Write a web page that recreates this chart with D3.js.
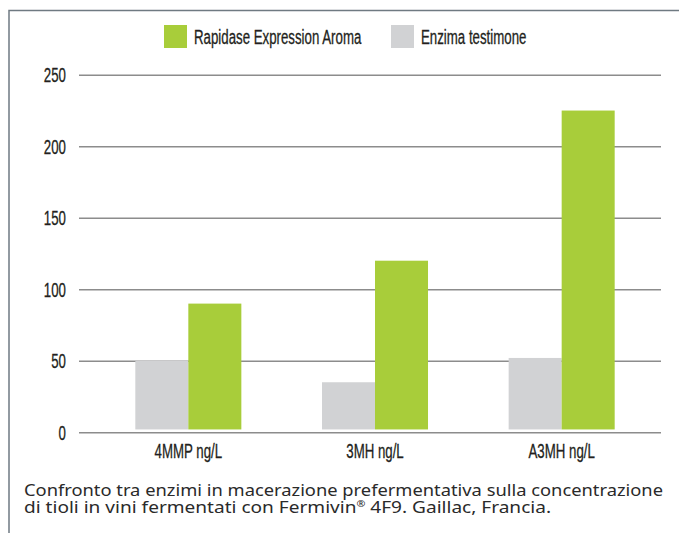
<!DOCTYPE html>
<html>
<head>
<meta charset="utf-8">
<script src="https://cdn.jsdelivr.net/npm/d3@7"></script>
<style>
  body { margin: 0; background: #fff; }
  .cond { font-family: "Liberation Sans", Arial, sans-serif; fill: #231f20; stroke: #231f20; stroke-width: 0.3; }
  .caption { font-family: "Noto Sans", "Lato", sans-serif; fill: #2a2a2a; }
</style>
</head>
<body>
<div id="chart"></div>
<script>
const categories = ["4MMP ng/L", "3MH ng/L", "A3MH ng/L"];
const seriesNames = ["Enzima testimone", "Rapidase Expression Aroma"];
const testimone = [50, 35, 52];
const rapidase = [90, 120, 225];
const yTicks = [0, 50, 100, 150, 200, 250];
const legendOrder = ["Rapidase Expression Aroma", "Enzima testimone"];
const captionLine1 = "Confronto tra enzimi in macerazione prefermentativa sulla concentrazione";
const captionLine2 = ["di tioli in vini fermentati con Fermivin", "\u00AE", " 4F9. Gaillac, Francia."];

const width = 679;
const height = 533;
const margin = { top: 74.8, right: 18, bottom: 100.7, left: 79 };

const svg = d3.select("#chart")
    .append("svg")
    .attr("width", width)
    .attr("height", height);

const color = d3.scaleOrdinal()
    .domain(seriesNames)
    .range(["#d1d2d4", "#a8cd3a"]);

// squeeze text horizontally, the original uses a condensed face
function condense(sel, k = 0.68) {
    sel.each(function () {
        const w = this.getComputedTextLength();
        d3.select(this)
            .attr("textLength", w * k)
            .attr("lengthAdjust", "spacingAndGlyphs");
    });
}

// frame
svg.append("path")
    .attr("d", `M9,${height} V10.5 H${width}`)
    .attr("fill", "none")
    .attr("stroke", "#6f7a82")
    .attr("stroke-width", 1.5);

const x0 = d3.scaleBand()
    .domain(categories)
    .range([95, 655])
    .paddingInner(0.432)
    .paddingOuter(0.216);

const x1 = d3.scaleBand()
    .domain(seriesNames)
    .range([0, x0.bandwidth()]);

const y = d3.scaleLinear()
    .domain([0, 250])
    .range([height - margin.bottom, margin.top]);

// gridlines + tick labels
const yAxis = svg.append("g")
    .attr("transform", `translate(${margin.left},0)`)
    .call(d3.axisLeft(y).tickValues(yTicks).tickSize(-(661 - margin.left)).tickPadding(13))
    .call(g => g.select(".domain").remove());
yAxis.selectAll(".tick line")
    .attr("stroke", "#8c8c8c")
    .attr("stroke-width", 1.5);
yAxis.selectAll(".tick text")
    .attr("class", "cond")
    .attr("font-size", 19.5)
    .attr("dy", "0.36em")
    .attr("fill", "#231f20")
    .call(condense);

const table = categories.map((c, i) => ({
    cat: c,
    vals: [
        { key: seriesNames[0], value: testimone[i] },
        { key: seriesNames[1], value: rapidase[i] }
    ]
}));

svg.selectAll("g.grp")
    .data(table)
    .join("g")
    .attr("class", "grp")
    .attr("transform", d => `translate(${x0(d.cat)},0)`)
    .selectAll("rect")
    .data(d => d.vals)
    .join("rect")
    .attr("x", d => x1(d.key))
    .attr("y", d => y(d.value))
    .attr("width", x1.bandwidth())
    .attr("height", d => y(2) - y(d.value))
    .attr("fill", d => color(d.key));

// category labels
svg.append("g")
    .selectAll("text")
    .data(categories)
    .join("text")
    .attr("class", "cond")
    .attr("x", d => x0(d) + x0.bandwidth() / 2)
    .attr("y", 458)
    .attr("text-anchor", "middle")
    .attr("font-size", 19.5)
    .text(d => d)
    .call(condense);

// legend
const legendX = [164, 391];
const legend = svg.append("g");
legend.selectAll("rect")
    .data(legendOrder)
    .join("rect")
    .attr("x", (_, i) => legendX[i])
    .attr("y", 25)
    .attr("width", 23)
    .attr("height", 23)
    .attr("fill", d => color(d));
legend.selectAll("text")
    .data(legendOrder)
    .join("text")
    .attr("class", "cond")
    .attr("x", (_, i) => legendX[i] + 30)
    .attr("y", 44)
    .attr("font-size", 19.5)
    .text(d => d)
    .call(condense);

// caption
svg.append("text")
    .attr("class", "caption")
    .attr("x", 24)
    .attr("y", 496)
    .attr("font-size", 16)
    .attr("textLength", 639)
    .attr("lengthAdjust", "spacingAndGlyphs")
    .text(captionLine1);

const cap2 = svg.append("text")
    .attr("class", "caption")
    .attr("x", 24)
    .attr("y", 513)
    .attr("font-size", 16)
    .attr("textLength", 527)
    .attr("lengthAdjust", "spacingAndGlyphs");
cap2.selectAll("tspan")
    .data(captionLine2)
    .join("tspan")
    .attr("font-size", (_, i) => i === 1 ? 9 : null)
    .attr("dy", (_, i) => i === 1 ? -6 : i === 2 ? 6 : null)
    .text(d => d);
</script>
</body>
</html>
